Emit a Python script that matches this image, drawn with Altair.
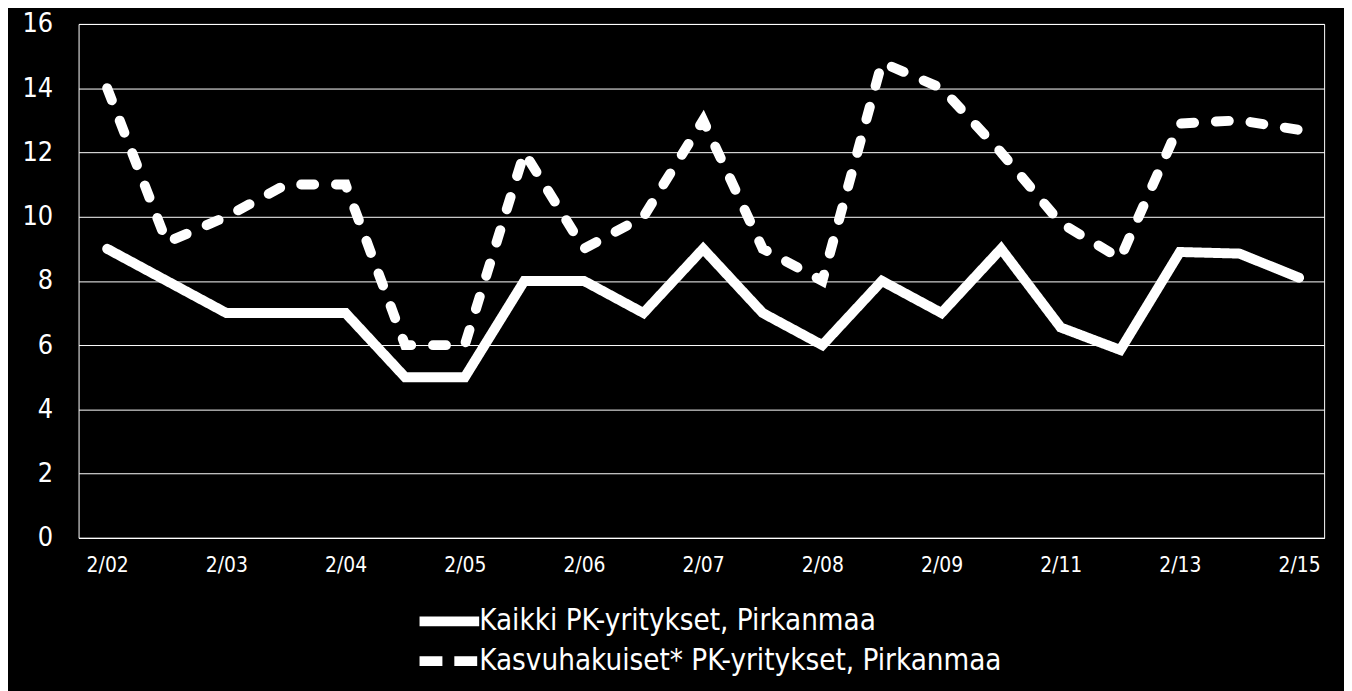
import altair as alt
import pandas as pd

# Tick labels shown on the x axis (every other data point)
x_labels = ["2/02", "2/03", "2/04", "2/05", "2/06", "2/07", "2/08", "2/09", "2/11", "2/13", "2/15"]

series_names = ["Kaikki PK-yritykset, Pirkanmaa", "Kasvuhakuiset* PK-yritykset, Pirkanmaa"]

# Series values (21 observations each)
kaikki = [9, 8, 7, 7, 7, 5, 5, 8, 8, 7, 9, 7, 6, 8, 7, 9, 6.55, 5.85, 8.9, 8.85, 8.1]
kasvu = [14, 9.2, 10, 11, 11, 6, 6, 12, 9, 10, 13, 9, 8, 14.8, 14, 12, 9.8, 8.7, 12.9, 13, 12.7]

rows = []
for i, v in enumerate(kaikki):
    rows.append({"i": i, "value": v, "series": series_names[0]})
for i, v in enumerate(kasvu):
    rows.append({"i": i, "value": v, "series": series_names[1]})
df = pd.DataFrame(rows)

label_expr = "[" + ",".join(f"'{l}'" for l in x_labels) + "][round(datum.value / 2)]"

FONT = "DejaVu Sans Condensed, DejaVu Sans, sans-serif"

x_enc = alt.X(
    "i:Q",
    scale=alt.Scale(domain=[-0.48, 20.42], nice=False, zero=False),
    axis=alt.Axis(
        values=list(range(0, 21, 2)), labelExpr=label_expr, title=None,
        grid=False, ticks=False, tickSize=0, domain=True, domainColor="white",
        labelColor="white", labelFontSize=21, labelFont=FONT, labelPadding=17,
        labelAngle=0, labelFlush=False, labelOverlap=False,
    ),
)
y_enc = alt.Y(
    "value:Q",
    scale=alt.Scale(domain=[0, 16], nice=False),
    axis=alt.Axis(
        values=list(range(0, 17, 2)), title=None, grid=True, gridColor="white",
        gridWidth=1, gridOpacity=1, ticks=False, tickSize=0, domain=False,
        labelColor="white", labelFontSize=27, labelFont=FONT, labelPadding=26,
    ),
)

base = alt.Chart(df)

lines = base.mark_line(
    color="white", strokeWidth=10, strokeCap="round", strokeJoin="miter"
).encode(
    x=x_enc,
    y=y_enc,
    strokeDash=alt.StrokeDash(
        "series:N",
        scale=alt.Scale(domain=series_names, range=[[1, 0], [13, 22]]),
        sort=series_names,
        legend=None,
    ),
)

# legend-only layer (no rows drawn), with a dash pattern matching the round-capped look
legend_layer = base.transform_filter("false").mark_line(
    color="white", strokeWidth=10
).encode(
    x=alt.X("i:Q"),
    y=alt.Y("value:Q"),
    strokeDash=alt.StrokeDash(
        "series:N",
        scale=alt.Scale(domain=series_names, range=[[1, 0], [23, 12]]),
        sort=series_names,
        legend=alt.Legend(
            title=None, orient="none", legendX=353, legendY=581, direction="vertical",
            symbolType="M-2,0H2", symbolSize=900, symbolStrokeWidth=10,
            symbolStrokeColor="white", symbolFillColor="transparent",
            labelColor="white", labelFontSize=29.5,
            labelFont=FONT, labelLimit=900, labelOffset=10, rowPadding=0, padding=0,
        ),
    ),
)

chart = alt.layer(lines, legend_layer).resolve_scale(
    strokeDash="independent"
).properties(
    width=1253, height=517,
    autosize=alt.AutoSizeParams(type="none"),
    padding={"left": 71, "top": 14, "right": 20, "bottom": 152},
    background="black",
).configure_view(
    stroke="white", strokeWidth=1
)

chart.save("out.html", embed_options={"renderer": "svg", "actions": False})
